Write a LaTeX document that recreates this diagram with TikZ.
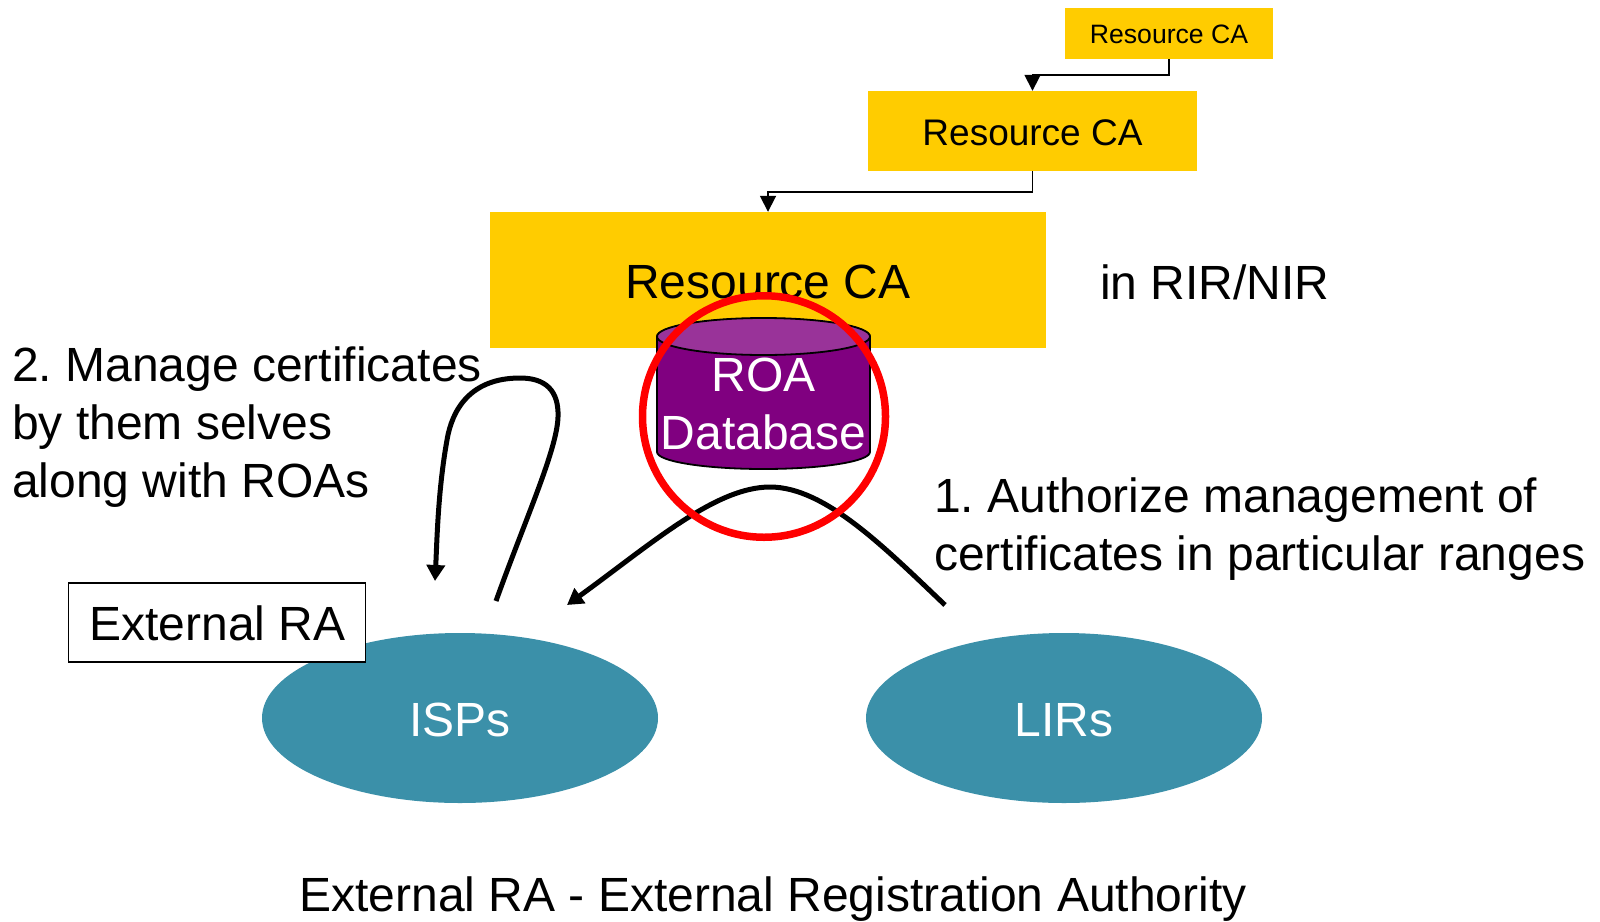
\documentclass[tikz,border=0pt]{standalone}
\usepackage{fontspec}
\setmainfont{Liberation Sans}
\usetikzlibrary{arrows.meta,shapes.geometric}
\definecolor{gold}{HTML}{FFCC00}
\definecolor{roapurple}{HTML}{800080}
\definecolor{roatop}{HTML}{993399}
\definecolor{teal2}{HTML}{3B90A9}
\frenchspacing
\tikzset{
  cabox/.style={fill=gold,inner sep=0pt,text=black},
  elbow/.style={draw=black,line width=1.8pt,-{Triangle[length=16pt,width=16pt]}},
  curve/.style={draw=black,line width=5pt,-{Triangle[length=16pt,width=18pt]}},
  org/.style={ellipse,fill=teal2,inner sep=0pt,minimum width=396pt,minimum height=170pt},
  orgtext/.style={inner sep=0pt,text=white,font=\fontsize{48}{58}\selectfont},
  label/.style={inner sep=0pt,align=left,anchor=base west,font=\fontsize{48}{58}\selectfont,text=black},
}
\begin{document}
\begin{tikzpicture}[x=1pt,y=-1pt]
\useasboundingbox (0,0) rectangle (1600,921);
\node[cabox,minimum width=208pt,minimum height=51pt] (ca1) at (1169,33.5) {};
\node[font=\fontsize{26.6}{32}\selectfont,inner sep=0pt] (ca1t) at (1169,34) {Resource CA};
\node[cabox,minimum width=329pt,minimum height=80pt] (ca2) at (1032.5,131) {};
\node[font=\fontsize{37}{44}\selectfont,inner sep=0pt] (ca2t) at (1032.5,133) {Resource CA};
\node[cabox,minimum width=556pt,minimum height=136pt] (ca3) at (768,280) {};
\node[font=\fontsize{48}{58}\selectfont,inner sep=0pt] (ca3t) at (768,282) {Resource CA};
\draw[elbow] (ca1.south) -- ++(0,16) -| (ca2.north);
\draw[elbow] (ca2.south) -- ++(0,21) -| (ca3.north);
\node[label] (rir) at (1100,299) {in RIR/NIR};
% cylinder
\filldraw[fill=roapurple,draw=black,line width=1.8pt] (657,337) -- (657,452) arc[start angle=180,end angle=0,x radius=106.5,y radius=17] -- (870,337) arc[start angle=0,end angle=-180,x radius=106.5,y radius=18.5] -- cycle;
\filldraw[fill=roatop,draw=black,line width=1.8pt] (763.5,336.5) ellipse[x radius=106.5,y radius=18.5];
\node[inner sep=0pt,align=center,text=white,font=\fontsize{48}{58}\selectfont] (roa) at (763.5,403.5) {ROA\\Database};
% ellipses
\node[org] (isps) at (460,718) {};
\node[orgtext] (ispst) at (460,720) {ISPs};
\node[org] (lirs) at (1064,718) {};
\node[orgtext] (lirst) at (1064,720) {LIRs};
\node[draw=black,fill=white,line width=1.6pt,minimum width=297pt,minimum height=79pt,inner sep=0pt] (ra) at (217,622.5) {};
\node[inner sep=0pt,font=\fontsize{48}{58}\selectfont] (rat) at (217.5,623) {External RA};
% curves
\coordinate (archstart) at (945,605);
\coordinate (archtip) at (567,605);
\coordinate (loopstart) at (496,601);
\coordinate (looptip) at (435,581);
\draw[curve] (archstart) .. controls (885,548) and (825,487) .. (770,487) .. controls (715,487) and (650,545) .. (archtip);
\draw[curve] (loopstart) .. controls (525,520) and (557,450) .. (558,417) .. controls (559,390) and (545,378) .. (520,378) .. controls (470,378) and (452,410) .. (447,440) .. controls (438,490) and (437,540) .. (looptip);
% red circle
\node[ellipse,draw=red,line width=7.5pt,minimum width=243pt,minimum height=241.5pt,inner sep=0pt] (ring) at (764,416.5) {};
% labels
\node[label] (manage) at (12,497.5) {2. Manage certificates\\by them selves\\along with ROAs};
\node[label] (auth) at (934,570) {1. Authorize management of\\certificates in particular ranges};
\node[inner sep=0pt,anchor=base,font=\fontsize{48}{58}\selectfont] (foot) at (773,911) {External RA - External Registration Authority};
\end{tikzpicture}
\end{document}
